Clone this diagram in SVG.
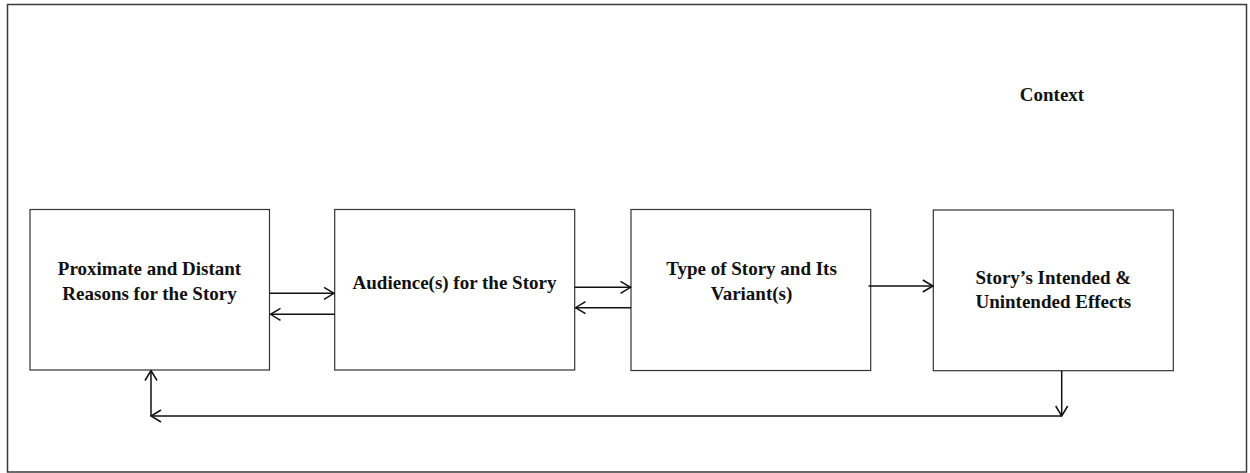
<svg xmlns="http://www.w3.org/2000/svg" width="1250" height="473" viewBox="0 0 1250 473">
<style>
.frame{fill:none;stroke:#3a3a3a;stroke-width:1.5}
.box{fill:#fff;stroke:#333;stroke-width:1.2}
.t{font-family:"Liberation Serif","Times New Roman",serif;font-weight:bold;font-size:19px;fill:#111;text-anchor:middle}
.c{fill:none;stroke:#111;stroke-width:1.5}
</style>
<defs>
<marker id="ah" viewBox="0 0 12 14" refX="11" refY="7" markerWidth="12" markerHeight="14" markerUnits="userSpaceOnUse" orient="auto">
<path d="M1,1 L11,7 L1,13" fill="none" stroke="#111" stroke-width="1.5"/>
</marker>
</defs>
<rect x="7.5" y="4.5" width="1239" height="467.5" class="frame"/>
<text class="t" x="1052" y="101">Context</text>
<g id="n1">
<rect class="box" x="30" y="209.5" width="239.5" height="160.5"/>
<text class="t" x="149.5" y="275">Proximate and Distant</text>
<text class="t" x="149.5" y="300">Reasons for the Story</text>
</g>
<g id="n2">
<rect class="box" x="334.7" y="209.5" width="240" height="160.5"/>
<text class="t" x="454.5" y="288.5">Audience(s) for the Story</text>
</g>
<g id="n3">
<rect class="box" x="631" y="209.5" width="239.7" height="161"/>
<text class="t" x="751.5" y="275">Type of Story and Its</text>
<text class="t" x="751.5" y="300">Variant(s)</text>
</g>
<g id="n4">
<rect class="box" x="933.3" y="210" width="240" height="160.7"/>
<text class="t" x="1053.3" y="283.5">Story’s Intended &amp;</text>
<text class="t" x="1053.3" y="307.7">Unintended Effects</text>
</g>
<g id="connectors">
<line class="c" x1="269.5" y1="293.3" x2="334" y2="293.3" marker-end="url(#ah)"/>
<line class="c" x1="334.7" y1="314.3" x2="270.5" y2="314.3" marker-end="url(#ah)"/>
<line class="c" x1="574.7" y1="287.3" x2="630.5" y2="287.3" marker-end="url(#ah)"/>
<line class="c" x1="631" y1="307.7" x2="575.5" y2="307.7" marker-end="url(#ah)"/>
<line class="c" x1="868.5" y1="286" x2="932.8" y2="286" marker-end="url(#ah)"/>
<line class="c" x1="1061.7" y1="370.7" x2="1061.7" y2="416" marker-end="url(#ah)"/>
<line class="c" x1="1061.7" y1="416" x2="151" y2="416" marker-end="url(#ah)"/>
<line class="c" x1="151" y1="416" x2="151" y2="370.5" marker-end="url(#ah)"/>
</g>
</svg>
